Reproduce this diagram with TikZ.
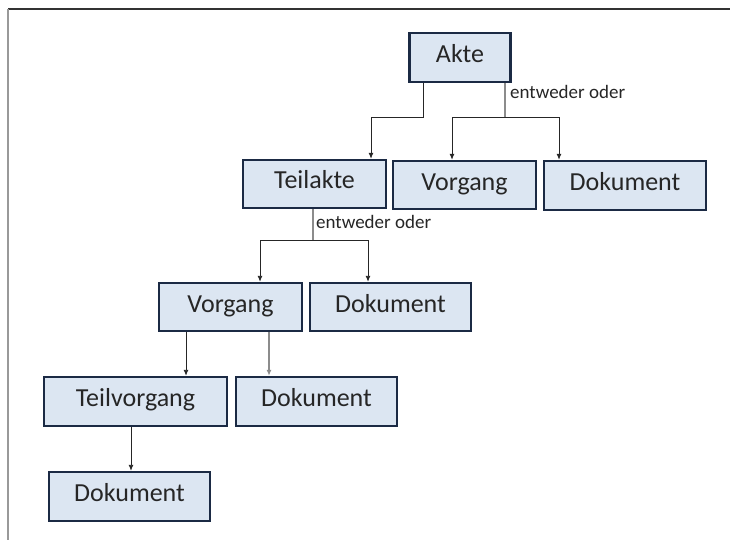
\documentclass[tikz,border=0pt]{standalone}
\usepackage{fontspec}
\setmainfont{Carlito}
\usetikzlibrary{arrows.meta}
\definecolor{boxfill}{HTML}{DCE6F2}
\definecolor{boxline}{HTML}{1B2A44}
\definecolor{trunkgray}{HTML}{8C8C8C}
\tikzset{
  box/.style={draw=boxline, line width=2.4pt, fill=boxfill, rectangle, inner sep=0pt,
    font=\fontsize{26}{30}\selectfont, text=black!85, text height=16.5pt, text depth=6.5pt},
  arr/.style={draw=black!85, line width=0.9pt, -{Latex[length=6pt,width=5pt]}},
  trunk/.style={draw=trunkgray, line width=1.3pt},
  grayarr/.style={draw=trunkgray, line width=1.3pt, -{Latex[length=6pt,width=5pt]}},
  lbl/.style={font=\fontsize{19}{22}\selectfont, text=black!85, anchor=west, inner sep=0pt}
}
\begin{document}
\begin{tikzpicture}[x=1pt,y=-1pt]
\useasboundingbox (0,0) rectangle (730,540);
\fill[white] (0,0) rectangle (730,540);
% frame
\draw[black!80, line width=1.6pt] (8,9) -- (730,9);
\draw[black!40, line width=2.2pt] (8,9) -- (8,540);
% nodes
\node[box, minimum width=101pt, minimum height=49pt] (akte) at (460,57.5) {Akte};
\node[box, minimum width=143pt, minimum height=48pt] (teilakte) at (314.5,184) {Teilakte};
\node[box, minimum width=143pt, minimum height=48pt] (v1) at (464.5,185) {Vorgang};
\node[box, minimum width=162pt, minimum height=49pt] (d1) at (625,185.5) {Dokument};
\node[box, minimum width=143pt, minimum height=48pt] (v2) at (230.5,307) {Vorgang};
\node[box, minimum width=161pt, minimum height=48pt] (d2) at (390.5,307) {Dokument};
\node[box, minimum width=183pt, minimum height=49pt] (tv) at (135.5,401.5) {Teilvorgang};
\node[box, minimum width=161pt, minimum height=49pt] (d3) at (316.5,401.5) {Dokument};
\node[box, minimum width=161pt, minimum height=49pt] (d4) at (129.5,496.5) {Dokument};
% labels
\node[lbl] (eo1) at (510,92) {entweder oder};
\node[lbl] (eo2) at (316,222) {entweder oder};
% Akte -> Teilakte
\draw[arr] ([xshift=-37pt]akte.south) -- ++(0,34) -| ([xshift=56.5pt]teilakte.north);
% Akte -> Vorgang / Dokument
\draw[trunk] ([xshift=45pt]akte.south) -- ++(0,34) coordinate (j1);
\draw[arr] (j1) -| ([xshift=-12.5pt]v1.north);
\draw[arr] (j1) -| ([xshift=-66pt]d1.north);
% Teilakte -> Vorgang / Dokument
\draw[trunk] ([xshift=-1.5pt]teilakte.south) -- ++(0,31) coordinate (j2);
\draw[arr] (j2) -| ([xshift=29.5pt]v2.north);
\draw[arr] (j2) -| ([xshift=-22.5pt]d2.north);
% Vorgang -> Teilvorgang / Dokument
\draw[arr] ([xshift=-44.5pt]v2.south) -- ([xshift=50.5pt]tv.north);
\draw[grayarr] ([xshift=38.5pt]v2.south) -- ([xshift=-47.5pt]d3.north);
% Teilvorgang -> Dokument
\draw[arr] ([xshift=-4.5pt]tv.south) -- ([xshift=1.5pt]d4.north);
\end{tikzpicture}
\end{document}
